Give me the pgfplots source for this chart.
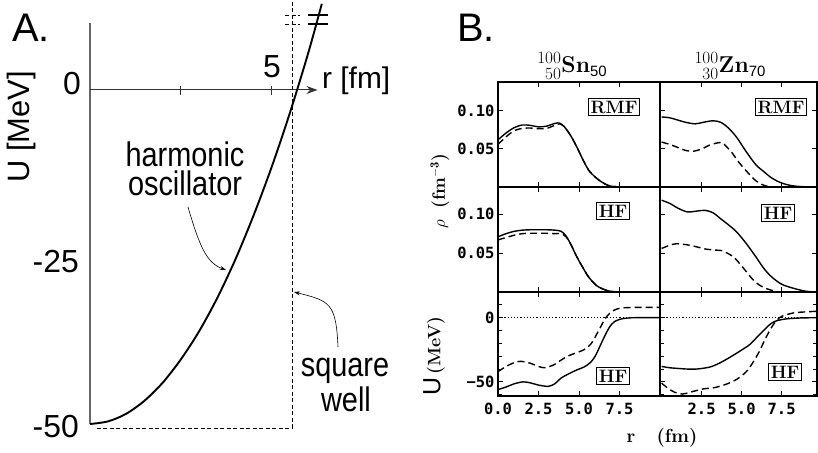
\documentclass[border=0pt]{standalone}
\usepackage{fontspec}
\usepackage{pgfplots}
\pgfplotsset{compat=1.18}
\usetikzlibrary{arrows.meta}
\newfontfamily\arial{Liberation Sans}
\newfontfamily\mono{DejaVu Sans Mono}
\newcommand{\fs}[1]{\fontsize{#1}{#1}\selectfont}

\pgfplotsset{
 bax/.style={scale only axis, anchor=south west, xmin=0, xmax=10, width=162bp,
   axis line style={line width=1.4bp}, every tick/.style={black, line width=0.9bp},
   major tick length=5bp, minor tick length=3.5bp, tick align=inside,
   xtick={2.5,5,7.5}, xticklabels={},
   ticklabel style={font=\mono\bfseries\fs{15.5}},
   xticklabel style={yshift=-4bp}},
 bright/.style={xmin=-0.1, xmax=9.7, width=156.8bp, yticklabels={}},
 bleft/.style={ytick pos=left},
 rho top/.style={height=105bp, ymin=0, ymax=0.138, ytick={0.05,0.10}, yticklabels={0.05,0.10}},
 rho mid/.style={height=105bp, ymin=0, ymax=0.135, ytick={0.05,0.10}, yticklabels={0.05,0.10}},
 pot/.style={height=104bp, ymin=-61, ymax=20, ytick={-50,0}, yticklabels={−50,0},
   minor ytick={-60,-40,-30,-20,-10,10}},
 sol/.style={black, line width=1.4bp, smooth, tension=0.5, no marks},
 das/.style={black, line width=1.4bp, smooth, tension=0.5, no marks, dash pattern=on 7bp off 4bp},
}

\begin{document}
\begin{tikzpicture}[x=1bp,y=1bp]
\useasboundingbox (0,0) rectangle (818,453);

% ---------- panel A
\begin{axis}[scale only axis, anchor=south west, at={(90bp,22.3bp)},
  width=240.2bp, height=430.9bp, xmin=0, xmax=6.6, ymin=-51, ymax=13.5,
  axis lines=none, clip=false]
\draw[black!60, line width=1.2bp] (axis cs:0,-50) -- (axis cs:0,10);
\draw[black!80, line width=1bp, -{Stealth[length=11bp,width=8bp]}] (axis cs:0,0) -- (axis cs:6.25,0);
\draw[black!80, line width=1bp] (axis cs:2.5,0.6) -- (axis cs:2.5,-0.75);
\draw[black!80, line width=1bp] (axis cs:5,0.6) -- (axis cs:5,-0.75);
\addplot[black, line width=0.8bp, dash pattern=on 4bp off 2.5bp] coordinates {(0.19,-50.6)(5.55,-50.6)(5.55,13.5)};
\addplot[black, line width=1.9bp, smooth] coordinates {(0,-50)(0.5,-49.6)(1,-48.45)(1.5,-46.5)(2,-43.8)(2.5,-40.3)(3,-36.1)(3.5,-31.1)(4,-25.3)(4.5,-18.7)(5,-11.4)(5.5,-3.3)(6,5.6)(6.37,12.9)};
\end{axis}

\draw[black, line width=0.8bp, dash pattern=on 4bp off 2.5bp] (285,438) -- (300,438) (285,429) -- (300,429);
\draw[black, line width=1.2bp] (308,438) -- (328,438) (308,429) -- (328,429);

\node[font=\arial\fs{40}, anchor=base west, inner sep=0] at (12,411) {A.};
\node[font=\arial\fs{32}, anchor=base east, inner sep=0] at (81,358) {0};
\node[font=\arial\fs{32}, anchor=base east, inner sep=0] at (79,180) {-25};
\node[font=\arial\fs{32}, anchor=base east, inner sep=0] at (79,15) {-50};
\node[font=\arial\fs{32}, anchor=base, inner sep=0] at (272,375) {5};
\node[font=\arial\fs{30}, anchor=base west, inner sep=0] at (322,364) {r [fm]};
\node[font=\arial\fs{31}, rotate=90, inner sep=0] at (22,326) {U [MeV]};
\node[font=\arial\fs{29}, anchor=base, inner sep=0, yscale=1.18] at (185,286) {harmonic};
\node[font=\arial\fs{29}, anchor=base, inner sep=0, yscale=1.18] at (185,257) {oscillator};
\node[font=\arial\fs{29}, anchor=base, inner sep=0, yscale=1.18] at (345,76) {square};
\node[font=\arial\fs{29}, anchor=base, inner sep=0, yscale=1.18] at (346,41) {well};
\draw[line width=0.6bp, -{Stealth[length=6bp,width=4bp]}] (188,246) .. controls (200,205) and (207,190) .. (226,183);
\draw[line width=0.6bp, -{Stealth[length=6bp,width=4bp]}] (338,106) .. controls (336,150) and (330,152) .. (294,161);

% ---------- panel B
\node[font=\arial\fs{40}, anchor=base west, inner sep=0] at (457,411) {B.};

% top row: RMF densities
\begin{axis}[bax, bleft, rho top, at={(498bp,266bp)}]
\addplot[sol] coordinates {(0,0.062)(0.5,0.071)(1,0.078)(1.5,0.0815)(2,0.081)(2.5,0.079)(3,0.080)(3.5,0.0835)(3.8,0.084)(4.1,0.079)(4.5,0.067)(4.9,0.051)(5.25,0.0355)(5.6,0.022)(6,0.013)(6.4,0.0065)(6.8,0.002)(7.2,0.0005)(8,0)(10,0)};
\addplot[das] coordinates {(0,0.056)(0.5,0.066)(1,0.074)(1.5,0.077)(2,0.0775)(2.5,0.0765)(3,0.077)(3.5,0.081)(3.8,0.083)(4.1,0.079)(4.5,0.067)(4.9,0.051)(5.25,0.0355)(5.6,0.022)(6,0.013)(6.4,0.0065)(6.8,0.002)(7.2,0.0005)(8,0)(10,0)};
\end{axis}
\begin{axis}[bax, bright, rho top, yticklabels={}, at={(660bp,266bp)}]
\addplot[sol] coordinates {(0,0.092)(0.5,0.091)(1,0.088)(1.5,0.085)(2.1,0.083)(2.6,0.085)(3.2,0.087)(3.7,0.085)(4.2,0.077)(4.7,0.065)(5.3,0.046)(5.9,0.029)(6.4,0.02)(6.8,0.013)(7.2,0.008)(7.6,0.0045)(8.2,0.0015)(9,0.0002)(9.7,0)};
\addplot[das] coordinates {(0,0.059)(0.5,0.056)(1,0.052)(1.5,0.048)(2,0.047)(2.5,0.050)(3,0.055)(3.5,0.058)(3.8,0.058)(4.1,0.052)(4.4,0.045)(4.7,0.036)(5,0.028)(5.3,0.021)(5.6,0.014)(5.9,0.008)(6.3,0.003)(6.7,0.0005)(7.2,0)(9.7,0)};
\end{axis}

% middle row: HF densities
\begin{axis}[bax, bleft, rho mid, at={(498bp,161bp)}]
\addplot[sol] coordinates {(0,0.071)(0.5,0.075)(1,0.078)(1.5,0.0795)(2,0.080)(2.5,0.080)(3,0.080)(3.5,0.0795)(3.9,0.078)(4.2,0.072)(4.5,0.061)(4.75,0.050)(5,0.040)(5.25,0.031)(5.5,0.022)(5.8,0.014)(6.1,0.008)(6.4,0.0045)(6.8,0.0015)(7.2,0.0003)(8,0)(10,0)};
\addplot[das] coordinates {(0,0.067)(0.5,0.070)(1,0.073)(1.5,0.075)(2,0.0755)(2.5,0.0755)(3,0.0755)(3.5,0.075)(3.9,0.075)(4.2,0.071)(4.5,0.061)(4.75,0.050)(5,0.040)(5.25,0.031)(5.5,0.022)(5.8,0.014)(6.1,0.008)(6.4,0.0045)(6.8,0.0015)(7.2,0.0003)(8,0)(10,0)};
\end{axis}
\begin{axis}[bax, bright, rho mid, yticklabels={}, at={(660bp,161bp)}]
\addplot[sol] coordinates {(0,0.118)(0.5,0.114)(1,0.108)(1.6,0.103)(2.2,0.104)(2.7,0.105)(3.2,0.102)(3.7,0.094)(4.2,0.086)(4.7,0.077)(5.3,0.062)(5.9,0.045)(6.4,0.030)(6.9,0.019)(7.5,0.010)(8.2,0.005)(9,0.001)(9.7,0)};
\addplot[das] coordinates {(0,0.056)(0.5,0.060)(0.9,0.062)(1.5,0.061)(2.2,0.058)(2.8,0.055)(3.3,0.054)(3.8,0.053)(4.1,0.050)(4.5,0.045)(4.9,0.036)(5.3,0.026)(5.7,0.016)(6.1,0.009)(6.6,0.004)(7.1,0.001)(7.6,0)(9.7,0)};
\end{axis}

% bottom row: HF potentials
\begin{axis}[bax, bleft, pot, at={(498bp,57bp)}, xtick={0,2.5,5,7.5}, xticklabels={0.0,2.5,5.0,7.5}]
\addplot[black, line width=1.2bp, dotted] coordinates {(0,0)(10,0)};
\addplot[sol] coordinates {(0,-56)(0.5,-54)(1,-51.5)(1.55,-50)(2,-50.8)(2.5,-52.5)(3.1,-53.5)(3.5,-51.5)(3.9,-47)(4.4,-43.5)(4.9,-40.5)(5.3,-38.5)(5.7,-35)(6,-30)(6.3,-22)(6.6,-14)(6.9,-7)(7.2,-3)(7.6,-1)(8,-0.3)(8.5,0)(10,0)};
\addplot[das] coordinates {(0,-42)(0.5,-38)(1,-35)(1.4,-34)(2,-35.5)(2.5,-38)(2.9,-39)(3.4,-37)(3.9,-33)(4.3,-30)(4.8,-27.5)(5.3,-25)(5.7,-21)(6,-15)(6.3,-8)(6.6,-1)(6.9,3.5)(7.2,6)(7.6,7.5)(8.5,8)(10,8)};
\end{axis}
\begin{axis}[bax, bright, pot, yticklabels={}, at={(660bp,57bp)}, xtick={2.5,5,7.5}, xticklabels={2.5,5.0,7.5}]
\addplot[black, line width=1.2bp, dotted] coordinates {(-0.1,0)(9.7,0)};
\addplot[sol] coordinates {(0,-38)(0.5,-39)(1,-39.5)(1.55,-40)(2.2,-40)(3,-38.5)(3.6,-35.5)(4.25,-31)(4.9,-26)(5.5,-21)(5.9,-16)(6.3,-11)(6.7,-6)(7.05,-3)(7.5,-1.5)(8,-0.7)(8.8,-0.2)(9.7,0)};
\addplot[das] coordinates {(0,-51)(0.4,-55)(0.8,-58)(1.3,-59.5)(1.8,-58)(2.6,-55.5)(3.3,-54.5)(4,-52)(4.7,-48)(5.3,-42)(5.7,-35)(6.1,-26.5)(6.5,-16)(6.9,-7)(7.2,-2)(7.5,1)(8,3)(8.4,4)(9,4.5)(9.7,5)};
\end{axis}

% panel B labels
\node[font=\fs{23}, anchor=base, inner sep=0] at (572,380) {${}^{100}_{\phantom{1}50}$\textbf{Sn}\raisebox{-4bp}{\arial\fs{15}50}};
\node[font=\fs{23}, anchor=base, inner sep=0] at (730,380) {${}^{100}_{\phantom{1}30}$\textbf{Zn}\raisebox{-4bp}{\arial\fs{15}70}};
\node[font=\bfseries\fs{18}, draw, line width=0.9bp, inner sep=2bp] at (614,346) {RMF};
\node[font=\bfseries\fs{18}, draw, line width=0.9bp, inner sep=2bp] at (781,346) {RMF};
\node[font=\bfseries\fs{18}, draw, line width=0.9bp, inner sep=2bp] at (613,242) {HF};
\node[font=\bfseries\fs{18}, draw, line width=0.9bp, inner sep=2bp] at (778,240) {HF};
\node[font=\bfseries\fs{18}, draw, line width=0.9bp, inner sep=2bp] at (613,77) {HF};
\node[font=\bfseries\fs{18}, draw, line width=0.9bp, inner sep=2bp] at (785,81) {HF};
\node[font=\fs{18}, rotate=90, inner sep=0] at (440,262) {$\rho$\ \ \textbf{(fm$^{\mathbf{-3}}$)}};
\node[font=\fs{18}, rotate=90, inner sep=0] at (434,97) {{\arial\fs{25}U}\,\textbf{(MeV)}};
\node[font=\bfseries\fs{19}, inner sep=0] at (662,15) {r\ \ \ (fm)};
\end{tikzpicture}
\end{document}
